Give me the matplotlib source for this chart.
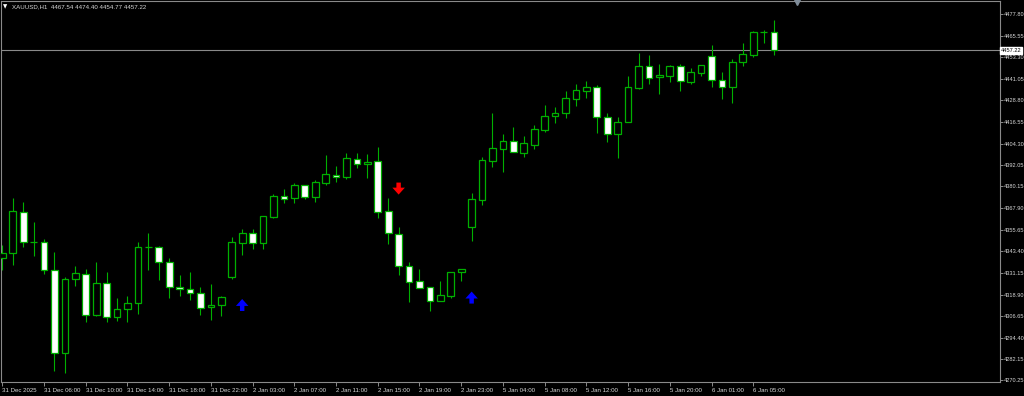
import matplotlib
matplotlib.use("Agg")
import matplotlib.pyplot as plt

# XAUUSD H1 candles (bar index 0 = first visible bar)
opens = [4339.5, 4342.3, 4365.9, 4348.4, 4348.6, 4333.0, 4285.9, 4327.9, 4330.8, 4307.4,
         4325.7, 4306.4, 4310.9, 4314.0, 4345.7, 4346.1, 4337.6, 4323.1, 4322.1, 4319.7,
         4311.8, 4313.1, 4328.9, 4348.0, 4353.6, 4348.0, 4362.7, 4374.9, 4373.3, 4380.8,
         4374.4, 4382.3, 4386.8, 4385.5, 4395.9, 4392.7, 4394.4, 4366.1, 4353.4, 4335.3,
         4326.4, 4323.1, 4315.5, 4318.2, 4331.6, 4357.0, 4372.4, 4394.7, 4401.5, 4405.7,
         4399.3, 4403.8, 4412.1, 4420.2, 4421.6, 4429.7, 4434.4, 4436.5, 4419.3, 4409.8,
         4416.5, 4436.1, 4448.3, 4442.0, 4442.7, 4448.3, 4439.5, 4444.6, 4454.2, 4440.4,
         4436.6, 4450.4, 4454.7, 4467.3, 4467.54]
highs = [4347.0, 4373.7, 4371.2, 4360.2, 4350.6, 4343.2, 4328.7, 4335.1, 4333.4, 4337.6,
         4331.7, 4316.9, 4318.3, 4348.7, 4353.6, 4346.3, 4339.8, 4329.9, 4331.7, 4323.1,
         4324.8, 4317.9, 4351.4, 4356.1, 4356.1, 4363.5, 4375.9, 4378.6, 4382.0, 4381.0,
         4383.8, 4398.0, 4391.7, 4398.9, 4399.3, 4398.4, 4402.3, 4373.6, 4357.4, 4337.6,
         4333.4, 4323.2, 4326.6, 4331.8, 4333.4, 4376.3, 4397.0, 4421.6, 4409.9, 4414.0,
         4408.7, 4415.0, 4426.3, 4425.3, 4434.2, 4438.2, 4439.9, 4437.6, 4421.6, 4419.3,
         4442.9, 4455.9, 4454.6, 4449.3, 4448.9, 4449.6, 4447.0, 4448.8, 4460.4, 4444.8,
         4452.1, 4461.5, 4468.3, 4468.7, 4474.40]
lows = [4332.8, 4335.9, 4346.1, 4340.8, 4330.8, 4275.7, 4274.4, 4323.8, 4303.1, 4307.0,
        4303.4, 4304.2, 4303.1, 4308.0, 4333.0, 4327.1, 4317.2, 4318.2, 4315.8, 4307.6,
        4304.5, 4307.0, 4327.9, 4341.4, 4344.5, 4344.7, 4362.1, 4371.0, 4371.0, 4372.9,
        4371.5, 4381.1, 4382.9, 4384.4, 4390.8, 4385.1, 4362.1, 4347.6, 4330.0, 4314.9,
        4322.8, 4309.6, 4315.4, 4317.2, 4326.8, 4349.4, 4369.6, 4391.4, 4388.5, 4399.6,
        4397.0, 4401.2, 4411.2, 4416.2, 4418.7, 4425.9, 4430.4, 4410.6, 4405.3, 4396.1,
        4416.4, 4435.2, 4438.0, 4432.3, 4439.5, 4434.4, 4438.0, 4442.7, 4436.3, 4429.8,
        4427.3, 4448.1, 4453.6, 4461.5, 4454.77]
closes = [4342.3, 4366.2, 4348.6, 4348.8, 4332.8, 4285.9, 4327.9, 4331.3, 4307.2, 4325.7,
          4306.4, 4310.9, 4314.0, 4345.7, 4346.0, 4337.6, 4323.1, 4322.1, 4319.7, 4311.4,
          4313.1, 4317.7, 4348.4, 4353.6, 4348.3, 4363.1, 4374.9, 4372.9, 4380.8, 4374.4,
          4382.5, 4387.0, 4385.6, 4396.1, 4392.9, 4394.2, 4365.9, 4353.6, 4335.1, 4326.2,
          4322.9, 4315.3, 4318.5, 4331.7, 4333.3, 4372.9, 4395.1, 4401.9, 4405.7, 4399.8,
          4404.6, 4412.5, 4420.2, 4421.7, 4430.2, 4434.6, 4436.5, 4419.3, 4409.8, 4416.6,
          4436.6, 4448.3, 4441.7, 4443.1, 4448.3, 4439.9, 4444.8, 4448.7, 4440.4, 4436.5,
          4450.4, 4455.0, 4467.6, 4467.5, 4457.22]

# signal arrows: bar index, tail price, tip price
buy_bars = [23, 45]
buy_tails = [4309.6, 4313.8]
buy_tips = [4316.4, 4320.6]
sell_bars = [38]
sell_tails = [4382.3]
sell_tips = [4375.5]

ytick_values = [4477.80, 4465.55, 4453.30, 4441.05, 4428.80, 4416.55, 4404.30, 4392.05,
                4380.15, 4367.90, 4355.65, 4343.40, 4331.15, 4318.90, 4306.65, 4294.40,
                4282.15, 4270.25]
xtick_bars = [0, 4, 8, 12, 16, 20, 24, 28, 32, 36, 40, 44, 48, 52, 56, 60, 64, 68, 72]
xtick_labels = ["31 Dec 2025", "31 Dec 06:00", "31 Dec 10:00", "31 Dec 14:00",
                "31 Dec 18:00", "31 Dec 22:00", "2 Jan 03:00", "2 Jan 07:00",
                "2 Jan 11:00", "2 Jan 15:00", "2 Jan 19:00", "2 Jan 23:00",
                "5 Jan 04:00", "5 Jan 08:00", "5 Jan 12:00", "5 Jan 16:00",
                "5 Jan 20:00", "6 Jan 01:00", "6 Jan 05:00"]

symbol = "XAUUSD,H1"

GREEN = "#00b000"
GRAY = "#8a8a8a"
TXT = "#d8d8d8"
FS = 4.4
YFS = 4.1
plt.rcParams["font.family"] = ["Liberation Sans", "DejaVu Sans"]

W, H = 1024, 396
fig = plt.figure(figsize=(W / 100, H / 100), dpi=100, facecolor="black")
ax = fig.add_axes([1 / W, 14 / H, 999 / W, 381 / H], facecolor="black")

x = list(range(len(opens)))
ax.vlines(x, lows, highs, color=GREEN, linewidth=0.8, zorder=2)
bottoms = [min(o, c) for o, c in zip(opens, closes)]
heights = [max(abs(c - o), 0.15) for o, c in zip(opens, closes)]
fills = ["black" if c >= o else "white" for o, c in zip(opens, closes)]
ax.bar(x, heights, bottom=bottoms, width=0.64, color=fills, edgecolor=GREEN,
       linewidth=0.9, zorder=3)

for b, t0, t1 in zip(buy_bars, buy_tails, buy_tips):
    ax.annotate("", xy=(b, t1), xytext=(b, t0),
                arrowprops=dict(width=3.2, headwidth=9, headlength=5, color="#0000ff", lw=0))
for b, t0, t1 in zip(sell_bars, sell_tails, sell_tips):
    ax.annotate("", xy=(b, t1), xytext=(b, t0),
                arrowprops=dict(width=3.2, headwidth=9, headlength=5, color="#ff0000", lw=0))

# current price line and label
last = closes[-1]
ax.axhline(last, color=GRAY, linewidth=0.8, zorder=1)
ax.text(1.001, last, "%.2f" % last, transform=ax.get_yaxis_transform(), ha="left",
        va="center", fontsize=YFS, color="black", zorder=10, clip_on=False,
        bbox=dict(boxstyle="square,pad=0.15", fc="white", ec="white"))

ax.set_xlim(-0.125, 95.66)
ax.set_ylim(4269.4, 4485.1)

ax.yaxis.tick_right()
ax.set_yticks(ytick_values)
ax.set_yticklabels(["%.2f" % v for v in ytick_values])
ax.tick_params(axis="y", direction="out", length=2, width=0.7, color=GRAY,
               labelcolor=TXT, labelsize=YFS, pad=0.8)
ax.set_xticks(xtick_bars)
ax.set_xticklabels(xtick_labels, ha="left")
ax.tick_params(axis="x", direction="out", length=3, width=0.7, color=GRAY,
               labelcolor=TXT, labelsize=FS, pad=1.5)

for sp in ax.spines.values():
    sp.set_color(GRAY)
    sp.set_linewidth(0.8)

# chart shift marker
ax.plot([0.797], [0.997], marker="v", markersize=5, color="#7f8c99", transform=ax.transAxes,
        clip_on=False, zorder=5)

# header
fig.text(3 / W, 1 - 6.5 / H, "▼", fontsize=4, color="white", va="center",
         family="DejaVu Sans")
fig.text(12 / W, 1 - 6.5 / H, "%s  %.2f %.2f %.2f %.2f" % (symbol, opens[-1], highs[-1],
         lows[-1], closes[-1]), fontsize=FS, color=TXT, va="center")

fig.savefig("out.png", dpi=100, facecolor="black")
